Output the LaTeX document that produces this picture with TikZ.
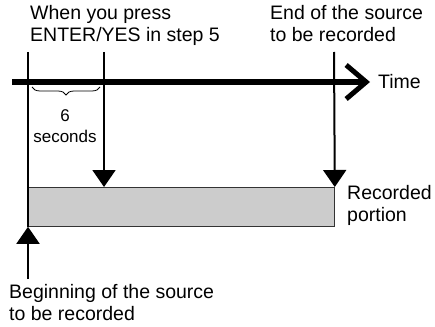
\documentclass[tikz,border=0pt]{standalone}
\usepackage{fontspec}
\setmainfont{Liberation Sans}
\usetikzlibrary{arrows.meta,positioning,decorations.pathreplacing}
\definecolor{portion}{HTML}{CCCCCC}

\begin{document}
\begin{tikzpicture}[x=1pt,y=-1pt,
    lbl/.style={font=\fontsize{19.5}{22.5}\selectfont,align=left,inner sep=0pt},
    marker/.style={line width=2pt},
    pointer/.style={line width=2pt,-{Triangle[width=23pt,length=17pt]}}]
  \useasboundingbox (0,0) rectangle (435,326);

  % time axis
  \coordinate (axisstart) at (12,82);
  \coordinate (axisend) at (370,82);
  \draw[line width=5pt,-{Straight Barb[length=20pt,width=34pt,line width=5pt]}] (axisstart) -- (axisend);
  \node[lbl,anchor=west] (time) at (378,82) {Time};

  % recorded portion
  \node[draw=black!80,fill=portion,line width=0.8pt,minimum width=306pt,minimum height=39pt,
    inner sep=0pt,anchor=north west] (portionbox) at (28,187) {};
  \node[lbl,anchor=north west] (portionlbl) at (347,185) {Recorded\\portion};

  % markers on the time axis
  \coordinate (begintop) at (28,52);
  \coordinate (presstop) at (104,52);
  \coordinate (endtop) at (334,52);
  \draw[marker] (begintop) -- (portionbox.south west);
  \draw[pointer] (presstop) -- (presstop |- portionbox.north);
  \draw[pointer] (endtop) -- (portionbox.north east);

  % beginning of the source
  \coordinate (beginfoot) at (28,279);
  \draw[pointer] (beginfoot) -- (portionbox.south west);

  % the six seconds
  \coordinate (braceleft) at (32,87);
  \coordinate (braceright) at (100,87);
  \draw[line width=0.8pt,decorate,decoration={brace,mirror,amplitude=8pt}] (braceleft) -- (braceright);
  \node[lbl,align=center,anchor=north,font=\fontsize{17}{21}\selectfont] (sixsec) at (65,109) {6\\seconds};

  % labels
  \node[lbl,anchor=north west] (presslbl) at (30,5) {When you press\\ENTER/YES in step 5};
  \node[lbl,anchor=north west] (endlbl) at (270,5) {End of the source\\to be recorded};
  \node[lbl,anchor=north west] (beginlbl) at (9,284) {Beginning of the source\\to be recorded};
\end{tikzpicture}
\end{document}
